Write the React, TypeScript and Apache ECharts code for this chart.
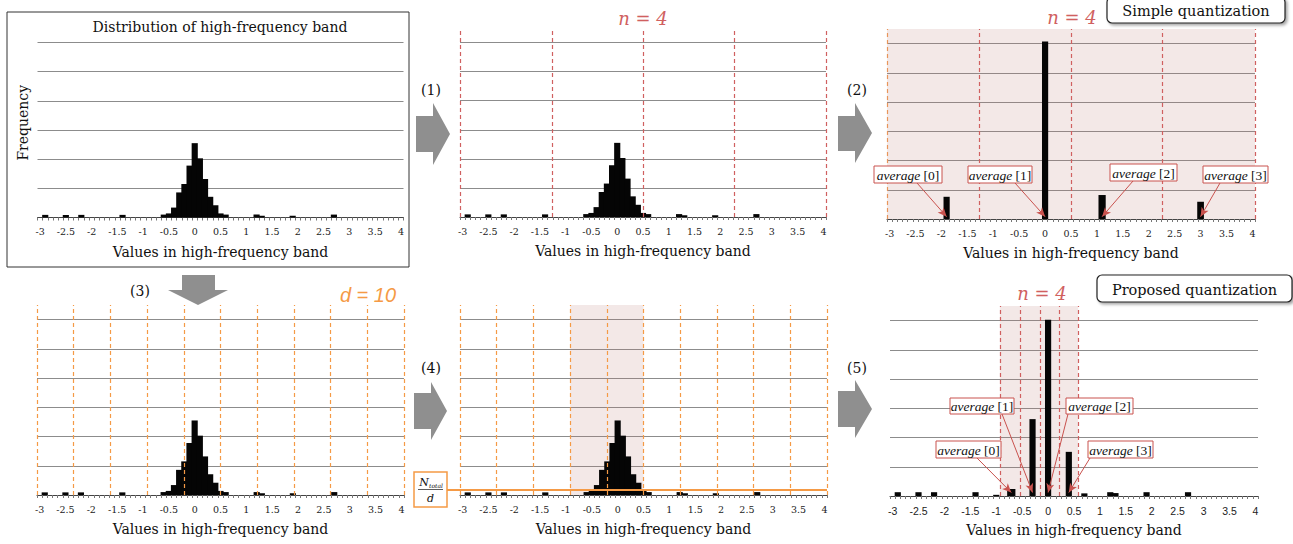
import React, { useEffect, useRef } from 'react';
import * as echarts from 'echarts';

// ---------- data ----------
const X_MIN = -3.05;
const X_MAX = 4.05;
const Y_MAX = 6.5;
const X_TICK_LABELS = [-3, -2.5, -2, -1.5, -1, -0.5, 0, 0.5, 1, 1.5, 2, 2.5, 3, 3.5, 4];

// histogram of the high-frequency band (bin width 0.1)
const HIST_X = [-2.9, -2.5, -2.2, -1.4, -0.6, -0.5, -0.4, -0.3, -0.2, -0.1, 0, 0.1, 0.2, 0.3, 0.4, 0.5, 0.6, 1.2, 1.3, 1.9, 2.7];
const HIST_Y = [0.09, 0.09, 0.09, 0.09, 0.1, 0.14, 0.34, 0.86, 1.15, 1.78, 2.55, 2.03, 1.32, 0.71, 0.42, 0.14, 0.1, 0.1, 0.06, 0.06, 0.1];
const BIN_W = 0.1;

// simple quantization (n = 4)
const SIMPLE_X = [-1.9, 0, 1.1, 3.0];
const SIMPLE_Y = [0.76, 6.07, 0.82, 0.59];
const SIMPLE_W = [0.1, 0.1, 0.12, 0.11];
const SIMPLE_BOUNDS = [-3.05, -1.275, 0.5, 2.275, 4.05];

// d = 10 partition
const D_BOUNDS = [-3.05, -2.34, -1.63, -0.92, -0.21, 0.5, 1.21, 1.92, 2.63, 3.34, 4.05];
const DENSE_RANGE = [-0.92, 0.5];
const N_OVER_D = 0.17;

// proposed quantization (n = 4)
const PROP_X = [-0.71, -0.3, 0, 0.4];
const PROP_Y = [0.24, 2.63, 6.03, 1.51];
const PROP_W = [0.14, 0.1, 0.1, 0.1];
const PROP_BOUNDS = [-0.93, -0.54, -0.16, 0.21, 0.58];
const OUT_X = [-2.9, -2.5, -2.2, -1.4, -1.0, 0.7, 1.2, 1.3, 1.9, 2.7];
const OUT_Y = [0.13, 0.13, 0.13, 0.13, 0.04, 0.09, 0.13, 0.1, 0.13, 0.13];

const AVG_LABELS = ['[0]', '[1]', '[2]', '[3]'];

// ---------- style ----------
const SERIF = 'DejaVu Serif';
const SANS = 'Liberation Sans';
const RED = '#d06060';
const RED_BOX = '#c9524e';
const ORANGE = '#f59a45';
const GRID_COLOR = '#8c8c8c';
const ARROW_GRAY = '#8f8f8f';

const GRIDS = [
  { left: 37.5, top: 28, width: 366, height: 189.5 },
  { left: 460, top: 28, width: 366, height: 189 },
  { left: 887, top: 29, width: 368, height: 190 },
  { left: 37, top: 305, width: 367, height: 190 },
  { left: 460, top: 305, width: 367, height: 190 },
  { left: 890, top: 306, width: 368, height: 190 },
];

const TICK_EDGES: number[] = [];
for (let i = 0; i <= 71; i++) TICK_EDGES.push(Number((X_MIN + i * 0.1).toFixed(2)));

function xAxisFor(i: number, sans = false) {
  return {
    type: 'value',
    gridIndex: i,
    min: X_MIN,
    max: X_MAX,
    axisLine: { show: true, onZero: false, lineStyle: { color: '#444', width: 1 } },
    axisTick: { show: true, customValues: TICK_EDGES, length: 3, lineStyle: { color: '#777' } },
    axisLabel: {
      customValues: X_TICK_LABELS,
      fontFamily: sans ? SANS : SERIF,
      fontSize: sans ? 10.5 : 9.5,
      color: '#222',
      margin: 9,
    },
    splitLine: { show: false },
    name: 'Values in high-frequency band',
    nameLocation: 'middle',
    nameGap: 27,
    nameTextStyle: { fontFamily: SERIF, fontSize: 14, color: '#111' },
  };
}

function yAxisFor(i: number) {
  const base: any = {
    type: 'value',
    gridIndex: i,
    min: 0,
    max: Y_MAX,
    interval: 1,
    axisLine: { show: false },
    axisTick: { show: false },
    axisLabel: { show: false },
    splitLine: { show: true, showMinLine: false, showMaxLine: false, lineStyle: { color: GRID_COLOR, width: 1 } },
  };
  if (i === 0) {
    base.name = 'Frequency';
    base.nameLocation = 'middle';
    base.nameGap = 8;
    base.nameTextStyle = { fontFamily: SERIF, fontSize: 14, color: '#111' };
  }
  return base;
}

const renderBar = (params: any, api: any) => {
  const x = api.value(0);
  const y = api.value(1);
  const w = api.value(2);
  const p0 = api.coord([x - w / 2, y]);
  const p1 = api.coord([x + w / 2, 0]);
  return {
    type: 'rect',
    shape: { x: p0[0] - 0.5, y: p0[1], width: p1[0] - p0[0] + 1, height: p1[1] - p0[1] },
    style: { fill: '#050505' },
  };
};

function histSeries(i: number, xs: number[], ys: number[], ws: number[] | null, extra: any = {}) {
  return {
    type: 'custom',
    xAxisIndex: i,
    yAxisIndex: i,
    renderItem: renderBar,
    encode: { x: 0, y: 1 },
    data: xs.map((x, k) => [x, ys[k], ws ? ws[k] : BIN_W]),
    silent: true,
    ...extra,
  };
}

const dashed = (vals: number[], color: string) =>
  vals.map((v) => ({ xAxis: v, lineStyle: { color, type: [4, 3], width: 1.2 } }));

const arrow = (from: [number, number], to: [number, number]) => [
  { x: from[0], y: from[1], symbol: 'none', lineStyle: { color: RED_BOX, width: 1, type: 'solid' } },
  { coord: to, symbol: 'arrow' },
];

const markLineBase = {
  silent: true,
  symbol: ['none', 'none'],
  symbolSize: [6, 9],
  label: { show: false },
  animation: false,
};

const shade = (a: number, b: number) => ({
  silent: true,
  itemStyle: { color: 'rgba(185,120,110,0.17)' },
  label: { show: false },
  data: [[{ xAxis: a }, { xAxis: b }]],
});

// ---------- annotations ----------
function avgBox(x: number, y: number, w: number, h: number, idx: string) {
  return {
    type: 'group',
    z: 100,
    children: [
      { type: 'rect', shape: { x, y, width: w, height: h }, style: { fill: '#fff', stroke: RED_BOX, lineWidth: 1 }, z: 100 },
      {
        type: 'text',
        x: x + w / 2,
        y: y + h / 2 + 0.5,
        z: 101,
        style: {
          text: '{i|average}{n| ' + idx + '}',
          align: 'center',
          verticalAlign: 'middle',
          rich: {
            i: { fontFamily: 'Liberation Serif', fontSize: 13.5, fontStyle: 'italic', fill: '#111' },
            n: { fontFamily: 'Liberation Serif', fontSize: 13.5, fill: '#111' },
          },
        },
      },
    ],
  };
}

function rightArrow(x0: number, yTop: number, yBot: number, xMid: number, xTip: number, shaftTop: number, shaftBot: number) {
  return {
    type: 'polygon',
    z: 100,
    shape: {
      points: [
        [x0, shaftTop], [xMid, shaftTop], [xMid, yTop], [xTip, (yTop + yBot) / 2],
        [xMid, yBot], [xMid, shaftBot], [x0, shaftBot],
      ],
    },
    style: { fill: ARROW_GRAY },
  };
}

function text(t: string, x: number, y: number, size: number, color = '#111', family = SERIF, italic = false) {
  return {
    type: 'text',
    x,
    y,
    z: 100,
    style: {
      text: t,
      fill: color,
      fontFamily: family,
      fontSize: size,
      fontStyle: italic ? 'italic' : 'normal',
      align: 'center',
      verticalAlign: 'middle',
    },
  };
}

function quantBox(x: number, y: number, w: number, h: number, label: string) {
  return {
    type: 'group',
    z: 100,
    children: [
      {
        type: 'rect',
        z: 100,
        shape: { x, y, width: w, height: h, r: 5 },
        style: { fill: '#fff', stroke: '#222', lineWidth: 1.2, shadowBlur: 3, shadowOffsetX: 2, shadowOffsetY: 2, shadowColor: 'rgba(0,0,0,0.35)' },
      },
      text(label, x + w / 2, y + h / 2 + 1, 14.5),
    ],
  };
}

const graphics: any[] = [
  // frame of the first panel
  { type: 'rect', z: 100, shape: { x: 7, y: 12, width: 402, height: 255 }, style: { fill: 'none', stroke: '#333', lineWidth: 1 } },
  text('Distribution of high-frequency band', 220, 27, 14),
  // step arrows
  rightArrow(416, 103, 165, 433, 450, 116, 152),
  rightArrow(838, 103, 163, 855, 872, 116, 151),
  rightArrow(414, 382, 440, 431, 447, 393, 429),
  rightArrow(838, 380, 438, 855, 872, 391, 427),
  {
    type: 'polygon',
    z: 100,
    shape: { points: [[182, 275], [215, 275], [215, 290], [228, 290], [198, 305], [168, 290], [182, 290]] },
    style: { fill: ARROW_GRAY },
  },
  text('(1)', 431, 90, 14),
  text('(2)', 857, 90, 14),
  text('(3)', 140, 291, 14),
  text('(4)', 431, 368, 14),
  text('(5)', 857, 368, 14),
  text('n = 4', 643, 18, 18, RED, SERIF, true),
  text('n = 4', 1072, 17, 18, RED, SERIF, true),
  text('n = 4', 1042, 293, 18, RED, SERIF, true),
  text('d = 10', 368, 295, 20, ORANGE, SANS, true),
  quantBox(1107, -3, 178, 26, 'Simple quantization'),
  quantBox(1097, 275, 195, 27, 'Proposed quantization'),
  avgBox(874, 166, 68, 17, AVG_LABELS[0]),
  avgBox(968, 166, 64, 17, AVG_LABELS[1]),
  avgBox(1110, 164, 67, 17, AVG_LABELS[2]),
  avgBox(1203, 166, 65, 17, AVG_LABELS[3]),
  avgBox(936, 441, 65, 17, AVG_LABELS[0]),
  avgBox(950, 398, 64, 16, AVG_LABELS[1]),
  avgBox(1066, 398, 67, 16, AVG_LABELS[2]),
  avgBox(1088, 441, 65, 17, AVG_LABELS[3]),
  // N_total / d box
  { type: 'line', z: 100, shape: { x1: 447, y1: 490, x2: 461, y2: 490 }, style: { stroke: ORANGE, lineWidth: 2 } },
  { type: 'rect', z: 100, shape: { x: 414, y: 472, width: 33, height: 35 }, style: { fill: '#fff', stroke: ORANGE, lineWidth: 1.5 } },
  text('N', 424, 482, 11, '#111', SERIF, true),
  text('total', 436, 485, 6, '#111', SERIF, true),
  { type: 'line', z: 101, shape: { x1: 418, y1: 489.5, x2: 443, y2: 489.5 }, style: { stroke: '#333', lineWidth: 0.8 } },
  text('d', 430.5, 498, 11, '#111', SERIF, true),
];

const option: any = {
  animation: false,
  backgroundColor: '#fff',
  textStyle: { fontFamily: SERIF },
  grid: GRIDS.map((g) => ({ ...g, containLabel: false })),
  xAxis: [0, 1, 2, 3, 4, 5].map((i) => xAxisFor(i, i === 5)),
  yAxis: [0, 1, 2, 3, 4, 5].map((i) => yAxisFor(i)),
  series: [
    histSeries(0, HIST_X, HIST_Y, null),
    histSeries(1, HIST_X, HIST_Y, null, {
      markLine: { ...markLineBase, data: dashed(SIMPLE_BOUNDS, RED) },
    }),
    histSeries(2, SIMPLE_X, SIMPLE_Y, SIMPLE_W, {
      markArea: shade(X_MIN, X_MAX),
      markLine: {
        ...markLineBase,
        data: [
          ...dashed(SIMPLE_BOUNDS.slice(0, 1), '#e8955a'),
          ...dashed(SIMPLE_BOUNDS.slice(1), RED),
          arrow([917, 183], [SIMPLE_X[0], 0.08]),
          arrow([1015, 183], [SIMPLE_X[1], 0.08]),
          arrow([1133, 181], [SIMPLE_X[2], 0.08]),
          arrow([1220, 183], [SIMPLE_X[3], 0.08]),
        ],
      },
    }),
    histSeries(3, HIST_X, HIST_Y, null, {
      markLine: { ...markLineBase, data: dashed(D_BOUNDS, ORANGE) },
    }),
    histSeries(4, HIST_X, HIST_Y, null, {
      markArea: shade(DENSE_RANGE[0], DENSE_RANGE[1]),
      markLine: {
        ...markLineBase,
        data: [
          ...dashed(D_BOUNDS, ORANGE),
          { yAxis: N_OVER_D, lineStyle: { color: ORANGE, width: 2, type: 'solid' } },
        ],
      },
    }),
    histSeries(5, OUT_X, OUT_Y, null),
    histSeries(5, PROP_X, PROP_Y, PROP_W, {
      markArea: shade(PROP_BOUNDS[0], PROP_BOUNDS[PROP_BOUNDS.length - 1]),
      markLine: {
        ...markLineBase,
        data: [
          ...dashed(PROP_BOUNDS, RED),
          arrow([977, 458], [PROP_X[0], 0.12]),
          arrow([1002, 414], [PROP_X[1], 0.12]),
          arrow([1068, 414], [PROP_X[2], 0.12]),
          arrow([1090, 458], [PROP_X[3], 0.12]),
        ],
      },
    }),
  ],
  graphic: graphics,
};

export default function App() {
  const ref = useRef<HTMLDivElement>(null);
  useEffect(() => {
    document.body.style.margin = '0';
    const chart = echarts.init(ref.current!, null, { renderer: 'svg' });
    chart.setOption(option);
    return () => chart.dispose();
  }, []);
  return (
    <div
      ref={ref}
      style={{ position: 'absolute', left: 0, top: 0, width: 1293, height: 544, background: '#fff' }}
    />
  );
}
